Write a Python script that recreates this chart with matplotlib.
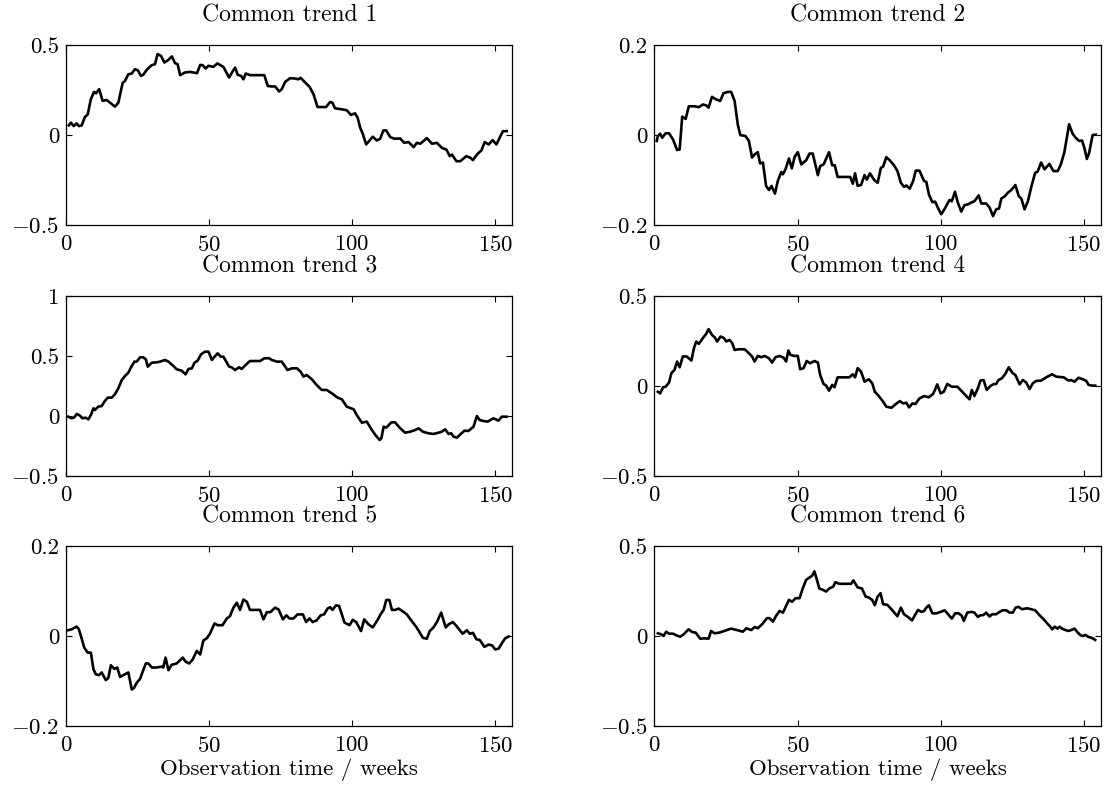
import matplotlib
matplotlib.use("Agg")
import matplotlib.pyplot as plt

# week positions and values, one pair per trend
t1 = [1, 1.7, 2.7, 3.7, 4.5, 5.5, 6.6, 7.6, 8.7, 9.8, 10.5, 11.6, 12.8, 14.2, 15.4, 17.1, 18.3,
      19.8, 20.6, 21.8, 23, 24.1, 25.1, 26.2, 27, 28.2, 29.9, 31.1, 32, 33.2, 34.4, 35.8, 37,
      38.1, 39, 39.9, 41.6, 43.4, 45.8, 46.9, 47.8, 48.8, 49.8, 51.5, 52.9, 55, 57, 58.2, 59.1,
      60, 61.2, 62, 62.8, 64.3, 69.3, 70.5, 71.9, 73.1, 74.5, 75.4, 76.6, 78.3, 80.1, 81.2, 82,
      83.6, 85.1, 86.5, 87.9, 89.4, 90.9, 92.3, 93.1, 94, 96.4, 98.1, 99.6, 101, 101.9, 102.8,
      103.7, 104.9, 106.1, 107.2, 108.6, 109.8, 110.9, 111.9, 113.3, 114.7, 116.8, 118.2, 119.7,
      121.5, 122.6, 123.8, 126.1, 127.9, 129.6, 131.4, 132.9, 134.1, 134.9, 136.4, 137.8, 139.9,
      141.3, 142.2, 143.6, 145.2, 146.3, 147.7, 149.1, 150.4, 151.8, 152.7, 154]
v1 = [0.054, 0.069, 0.05, 0.065, 0.05, 0.054, 0.10, 0.115, 0.2, 0.24, 0.232, 0.255, 0.19, 0.195,
      0.18, 0.158, 0.18, 0.29, 0.30, 0.338, 0.342, 0.366, 0.36, 0.329, 0.335, 0.362, 0.388, 0.394,
      0.45, 0.44, 0.403, 0.418, 0.437, 0.40, 0.394, 0.333, 0.348, 0.351, 0.344, 0.39, 0.388, 0.37,
      0.385, 0.379, 0.398, 0.379, 0.32, 0.353, 0.375, 0.335, 0.329, 0.31, 0.342, 0.333, 0.333,
      0.273, 0.27, 0.27, 0.242, 0.255, 0.296, 0.316, 0.314, 0.31, 0.318, 0.292, 0.268, 0.227,
      0.156, 0.156, 0.156, 0.184, 0.18, 0.149, 0.143, 0.138, 0.112, 0.121, 0.097, 0.041, 0.007,
      -0.052, -0.03, -0.009, -0.03, -0.02, 0.026, 0.026, -0.011, -0.02, -0.019, -0.043, -0.039,
      -0.067, -0.043, -0.048, -0.017, -0.048, -0.043, -0.072, -0.08, -0.117, -0.108, -0.145,
      -0.145, -0.117, -0.126, -0.139, -0.108, -0.084, -0.039, -0.052, -0.028, -0.052, -0.006,
      0.022, 0.022]

t2 = [0.8, 1.2, 2, 2.7, 3.9, 5.1, 6.5, 7.9, 8.8, 9.7, 10.9, 12, 14, 15.5, 16.9, 18.1, 18.9,
      20.1, 21.6, 23, 24.1, 25.7, 26.8, 28, 29.1, 30, 31.8, 33, 34.1, 35, 36.1, 36.9, 37.9, 39,
      40, 40.9, 42.1, 43.1, 44.3, 44.9, 45.8, 47, 48, 49, 50.1, 51.3, 53, 54.2, 55.3, 57.1, 57.9,
      59.1, 61, 62.1, 63, 64, 68.4, 69.3, 70.1, 71, 72.2, 73.4, 74.2, 75.3, 76.8, 78, 79.1, 79.9,
      81, 82.2, 83.7, 84.9, 86.1, 87.2, 88, 89.2, 90.4, 91.3, 92.6, 94.2, 95, 95.9, 97.1, 98.1,
      99, 100.2, 101.4, 103.1, 103.9, 105, 106, 107.2, 108.3, 109.5, 110.7, 111.8, 113.3, 114.2,
      115.9, 117.1, 118.3, 119.4, 120.4, 121.2, 122.4, 123.5, 124.7, 126.1, 127.3, 128.2, 129.3,
      130.5, 131.6, 133, 133.9, 135.1, 136.3, 138, 139.4, 140.9, 142, 143.2, 144.9, 146.1, 147.2,
      148.4, 149.4, 150.2, 151.1, 151.9, 153.1, 154.2]
v2 = [-0.013, -0.002, 0.003, -0.006, 0.004, 0.004, -0.01, -0.033, -0.032, 0.041, 0.036, 0.064,
      0.064, 0.062, 0.068, 0.066, 0.061, 0.085, 0.079, 0.076, 0.093, 0.096, 0.096, 0.076, 0.024,
      0.0, -0.002, -0.013, -0.05, -0.043, -0.038, -0.063, -0.061, -0.113, -0.122, -0.113, -0.13,
      -0.102, -0.082, -0.087, -0.076, -0.052, -0.074, -0.048, -0.038, -0.065, -0.056, -0.041,
      -0.041, -0.089, -0.069, -0.065, -0.038, -0.067, -0.067, -0.093, -0.093, -0.108, -0.085,
      -0.113, -0.111, -0.089, -0.099, -0.085, -0.1, -0.106, -0.073, -0.07, -0.049, -0.056,
      -0.067, -0.08, -0.106, -0.115, -0.112, -0.119, -0.102, -0.079, -0.079, -0.102, -0.104,
      -0.132, -0.149, -0.148, -0.161, -0.176, -0.164, -0.144, -0.147, -0.126, -0.15, -0.17,
      -0.156, -0.154, -0.15, -0.147, -0.134, -0.152, -0.152, -0.161, -0.18, -0.165, -0.163,
      -0.141, -0.136, -0.128, -0.122, -0.111, -0.136, -0.141, -0.165, -0.147, -0.117, -0.084,
      -0.081, -0.061, -0.076, -0.064, -0.08, -0.08, -0.065, -0.039, 0.024, 0.003, -0.006,
      -0.013, -0.012, -0.028, -0.053, -0.039, 0.0, 0.001]

t3 = [0.8, 2, 2.9, 3.8, 4.9, 5.7, 6.9, 7.8, 8.7, 9.6, 10.1, 11.3, 12.5, 13.4, 14.6, 16, 17.1,
      18.3, 19.5, 20.6, 21.8, 23, 23.9, 24.7, 25.9, 27, 27.9, 28.6, 30, 31.7, 32.9, 34.6, 35.8,
      37.5, 38.7, 40.4, 41.8, 42.8, 44, 44.9, 46, 47.2, 48.6, 49.8, 51, 51.9, 53, 54.1, 55, 55.8,
      57, 57.9, 59.1, 60.5, 61.4, 62.4, 64.3, 67.8, 69.3, 71, 71.9, 73.7, 75.4, 77.4, 78.9, 80.7,
      82, 83, 84.1, 85.9, 87.6, 89.4, 91.1, 92.9, 94.9, 96.4, 98.1, 100.5, 101.6, 103.4, 105.1,
      106.9, 108.1, 109.6, 110.2, 111, 111.9, 112.5, 113.7, 115, 116.8, 118.5, 120.3, 122, 123.2,
      124.7, 126.6, 128.4, 130.2, 131.3, 132.5, 133.7, 134.6, 135.4, 136.6, 137.8, 139.3, 140.6,
      142.4, 143.6, 144.5, 145.9, 147.3, 149.4, 151.1, 152.3, 153.9]
v3 = [-0.006, -0.019, -0.011, 0.017, 0.003, -0.019, -0.014, -0.028, 0.008, 0.064, 0.05, 0.078,
      0.083, 0.119, 0.153, 0.153, 0.181, 0.231, 0.3, 0.333, 0.361, 0.417, 0.453, 0.453, 0.489,
      0.489, 0.472, 0.411, 0.444, 0.447, 0.453, 0.467, 0.453, 0.417, 0.389, 0.378, 0.347, 0.392,
      0.397, 0.444, 0.461, 0.514, 0.536, 0.536, 0.467, 0.494, 0.522, 0.494, 0.494, 0.461, 0.411,
      0.406, 0.383, 0.406, 0.392, 0.417, 0.458, 0.458, 0.481, 0.481, 0.467, 0.453, 0.453, 0.383,
      0.397, 0.397, 0.369, 0.328, 0.342, 0.306, 0.258, 0.217, 0.217, 0.189, 0.153, 0.139, 0.078,
      0.056, 0.008, -0.056, -0.047, -0.117, -0.158, -0.2, -0.186, -0.089, -0.097, -0.083, -0.053,
      -0.053, -0.103, -0.139, -0.131, -0.117, -0.103, -0.131, -0.144, -0.15, -0.139, -0.131,
      -0.111, -0.15, -0.144, -0.172, -0.181, -0.153, -0.122, -0.125, -0.089, 0.0, -0.033, -0.042,
      -0.047, -0.019, -0.039, -0.006, -0.006]

t4 = [1.2, 2, 3, 3.9, 5.1, 5.9, 7, 7.9, 8.8, 9.9, 11.3, 12.9, 13.8, 14.6, 15.5, 16.9, 18.1, 18.9,
      20.1, 21, 21.9, 23.1, 24.3, 25.1, 26.2, 27.2, 28, 29.5, 31.5, 32.6, 34.1, 35, 36.1, 37.3,
      38.5, 40, 41.1, 42.3, 43.7, 45.1, 46, 46.8, 47.5, 48.9, 50.1, 50.9, 52.1, 53.2, 54.4, 55.9,
      57.1, 57.9, 59.1, 60, 61, 62.1, 62.9, 64, 68.1, 69.3, 70.1, 71, 72.2, 73.4, 74.9, 76.1, 77,
      78.4, 79.9, 81, 82.8, 84.2, 85.7, 86.9, 88, 89, 90.1, 91.2, 92.6, 94.2, 95.8, 97.3, 98.1,
      98.8, 100, 101.1, 102.3, 103.9, 105.8, 107.2, 108.3, 110.1, 110.9, 111.8, 113, 113.9, 115,
      116.1, 117.4, 118.6, 119.4, 120.2, 121.4, 122.6, 123.8, 125, 126.1, 127.6, 128.7, 129.9,
      131.1, 132.2, 133.4, 135.1, 136.9, 138.9, 140.4, 143, 144.7, 145.6, 146.8, 148.2, 149.7,
      150.9, 151.7, 152.9, 154]
v4 = [-0.032, -0.041, -0.007, -0.004, 0.019, 0.071, 0.089, 0.136, 0.104, 0.164, 0.164, 0.141,
      0.21, 0.247, 0.234, 0.266, 0.29, 0.316, 0.284, 0.271, 0.247, 0.275, 0.266, 0.247, 0.256,
      0.238, 0.2, 0.204, 0.204, 0.188, 0.164, 0.136, 0.167, 0.16, 0.167, 0.154, 0.13, 0.16, 0.167,
      0.158, 0.136, 0.197, 0.173, 0.167, 0.167, 0.093, 0.099, 0.139, 0.126, 0.139, 0.13, 0.061,
      0.011, 0.002, -0.026, 0.006, -0.007, 0.048, 0.048, 0.065, 0.048, 0.099, 0.08, 0.024, 0.037,
      0.015, -0.032, -0.056, -0.087, -0.115, -0.121, -0.102, -0.084, -0.097, -0.093, -0.119,
      -0.097, -0.1, -0.069, -0.056, -0.063, -0.045, -0.019, 0.009, -0.041, -0.032, 0.011, -0.004,
      -0.004, -0.026, -0.045, -0.074, -0.022, -0.056, -0.013, 0.03, 0.033, -0.022, 0.0, 0.011,
      0.011, 0.033, 0.043, 0.067, 0.104, 0.074, 0.061, 0.009, 0.033, 0.019, -0.017, 0.015, 0.028,
      0.03, 0.048, 0.065, 0.052, 0.048, 0.03, 0.033, 0.024, 0.046, 0.037, 0.028, 0.006, 0.002,
      0.002]

t5 = [0.8, 2, 3.7, 4.5, 5.5, 6.4, 7.6, 8.7, 9.6, 10.4, 11.5, 12.5, 13.9, 14.8, 15.7, 16.9, 17.9,
      18.9, 20, 21.8, 23, 23.8, 24.7, 25.9, 26.7, 27.9, 28.8, 30, 31.7, 33.4, 34, 34.8, 35.8,
      36.9, 38.7, 40.8, 41.8, 43, 44.2, 45.7, 46.9, 48, 49.2, 50.3, 51.9, 53, 54.7, 56.2, 57.3,
      58.5, 59.7, 60.8, 62, 63.2, 64.3, 67.8, 69, 70.2, 71.4, 73.1, 74.3, 75.8, 77, 78.1, 79.5,
      80.9, 82.8, 83.9, 85.1, 86.2, 87.6, 89, 90.2, 91.4, 92.3, 93.1, 94.3, 95.4, 96.4, 97.3,
      99.1, 100.2, 101.4, 103.1, 104.2, 105.7, 107.2, 108.9, 110.1, 111, 111.9, 113, 113.9, 115.1,
      116.2, 117.4, 119.1, 120.6, 122.3, 123.5, 124.7, 126.1, 127.1, 128.4, 129.6, 131.1, 132.7,
      133.7, 135.2, 136.6, 138.6, 140.1, 141.1, 142.2, 143.4, 144.6, 146.2, 147.7, 148.9, 150,
      151.2, 152.4, 153.5, 154.7]
v5 = [0.013, 0.015, 0.021, 0.015, -0.006, -0.026, -0.037, -0.037, -0.074, -0.085, -0.087,
      -0.081, -0.098, -0.093, -0.065, -0.073, -0.07, -0.091, -0.087, -0.081, -0.119, -0.115,
      -0.104, -0.095, -0.081, -0.061, -0.061, -0.07, -0.07, -0.068, -0.07, -0.048, -0.076,
      -0.064, -0.061, -0.048, -0.057, -0.061, -0.053, -0.033, -0.041, -0.01, -0.005, 0.005,
      0.028, 0.024, 0.024, 0.039, 0.044, 0.063, 0.074, 0.058, 0.081, 0.076, 0.058, 0.058, 0.037,
      0.053, 0.053, 0.063, 0.059, 0.037, 0.046, 0.039, 0.039, 0.048, 0.048, 0.031, 0.039, 0.031,
      0.035, 0.046, 0.048, 0.061, 0.064, 0.058, 0.068, 0.067, 0.048, 0.03, 0.024, 0.036, 0.031,
      0.011, 0.037, 0.026, 0.019, 0.036, 0.05, 0.058, 0.08, 0.08, 0.058, 0.058, 0.061, 0.056,
      0.048, 0.035, 0.021, 0.009, -0.004, -0.006, 0.011, 0.019, 0.031, 0.052, 0.019, 0.026,
      0.031, 0.021, 0.005, 0.013, 0.005, 0.007, -0.007, -0.009, -0.024, -0.019, -0.021, -0.03,
      -0.028, -0.015, -0.005, -0.001]

t6 = [1.2, 2.4, 3.2, 4.1, 5.1, 6.5, 7.6, 9, 10.2, 11.9, 13.2, 14.4, 16, 17.5, 18.9, 19.8, 21,
      22.7, 25.1, 26.8, 29.1, 30.9, 32.1, 33.8, 35, 36.1, 37.6, 39.3, 40.2, 41.4, 42.5, 43.7,
      44.9, 46, 47, 48.1, 49.3, 50.7, 51.8, 53, 54.2, 55.1, 55.9, 56.7, 57.6, 58.8, 60, 61.1,
      62.5, 63.2, 64.6, 68.7, 69.5, 71, 72.5, 73.8, 74.9, 76.1, 77, 77.9, 79, 79.9, 81.4, 82.8,
      84, 84.9, 86.1, 87.2, 88.4, 90, 91.2, 92.1, 93.3, 94.2, 95, 95.9, 97.1, 98.5, 100, 101.4,
      102.6, 103.9, 105.1, 106.3, 107.4, 108.1, 109.3, 110.7, 111.8, 113, 113.9, 115, 115.9,
      117.1, 118, 119.4, 120.6, 121.7, 122.9, 124.1, 125.2, 126.2, 127.2, 128.4, 130.2, 131.6,
      133, 134.6, 136, 137.5, 138.3, 139, 139.8, 140.8, 141.6, 142.4, 143.6, 144.7, 145.6, 146.8,
      147.9, 148.9, 149.7, 150.6, 151.5, 152.4, 153.2, 154]
v6 = [0.015, 0.009, 0.0, 0.024, 0.013, 0.013, 0.004, -0.004, 0.009, 0.037, 0.022, 0.019, -0.015,
      -0.013, -0.015, 0.028, 0.015, 0.019, 0.032, 0.041, 0.032, 0.024, 0.043, 0.033, 0.05, 0.043,
      0.065, 0.099, 0.099, 0.08, 0.112, 0.139, 0.13, 0.167, 0.201, 0.19, 0.21, 0.21, 0.264, 0.312,
      0.325, 0.335, 0.359, 0.316, 0.264, 0.257, 0.247, 0.264, 0.275, 0.299, 0.29, 0.29, 0.309,
      0.27, 0.264, 0.219, 0.214, 0.2, 0.171, 0.217, 0.238, 0.177, 0.173, 0.149, 0.126, 0.11,
      0.158, 0.121, 0.108, 0.087, 0.121, 0.145, 0.134, 0.139, 0.158, 0.171, 0.126, 0.126, 0.134,
      0.143, 0.121, 0.097, 0.126, 0.126, 0.112, 0.084, 0.13, 0.134, 0.13, 0.106, 0.115, 0.117,
      0.13, 0.108, 0.121, 0.121, 0.134, 0.143, 0.143, 0.13, 0.13, 0.158, 0.162, 0.149, 0.154,
      0.149, 0.143, 0.115, 0.093, 0.065, 0.052, 0.037, 0.052, 0.041, 0.052, 0.041, 0.033, 0.028,
      0.033, 0.041, 0.019, 0.004, 0.0, 0.006, -0.004, -0.009, -0.013, -0.022]

trends = [(t1, v1), (t2, v2), (t3, v3), (t4, v4), (t5, v5), (t6, v6)]
ylims = [(-0.5, 0.5), (-0.2, 0.2), (-0.5, 1), (-0.5, 0.5), (-0.2, 0.2), (-0.5, 0.5)]
yticks = [[-0.5, 0, 0.5], [-0.2, 0, 0.2], [-0.5, 0, 0.5, 1], [-0.5, 0, 0.5],
          [-0.2, 0, 0.2], [-0.5, 0, 0.5]]
xticks = [0, 50, 100, 150]

plt.rcParams['font.family'] = 'cmr10'
plt.rcParams['mathtext.fontset'] = 'cm'
plt.rcParams['axes.formatter.use_mathtext'] = True
plt.rcParams['font.size'] = 16

fig = plt.figure(figsize=(11.07, 7.87), dpi=100)

lefts = [0.0596, 0.5912]
bottoms = [0.714, 0.3952, 0.0775]
w = 0.4033
h = 0.2287

for i, (t, v) in enumerate(trends):
    r, c = divmod(i, 2)
    ax = fig.add_axes([lefts[c], bottoms[r], w, h])
    ax.plot(t, v, color='black', linewidth=1.9)
    ax.set_xlim(0, 156)
    ax.set_ylim(*ylims[i])
    ax.set_xticks(xticks)
    ax.set_yticks(yticks[i])
    ax.set_yticklabels([('$-$' + f'{abs(y):g}') if y < 0 else f'{y:g}' for y in yticks[i]])
    ax.tick_params(direction='in', top=True, right=True, length=4, width=0.8,
                   labelsize=16.5)
    ax.tick_params(axis='x', pad=7)
    ax.tick_params(axis='y', pad=5)
    for s in ax.spines.values():
        s.set_linewidth(0.9)
    ax.set_title('Common trend %d' % (i + 1), fontsize=17, pad=17)
    if r == 2:
        ax.set_xlabel('Observation time / weeks', fontsize=16.5, labelpad=2)

fig.savefig('out.png', dpi=100)
